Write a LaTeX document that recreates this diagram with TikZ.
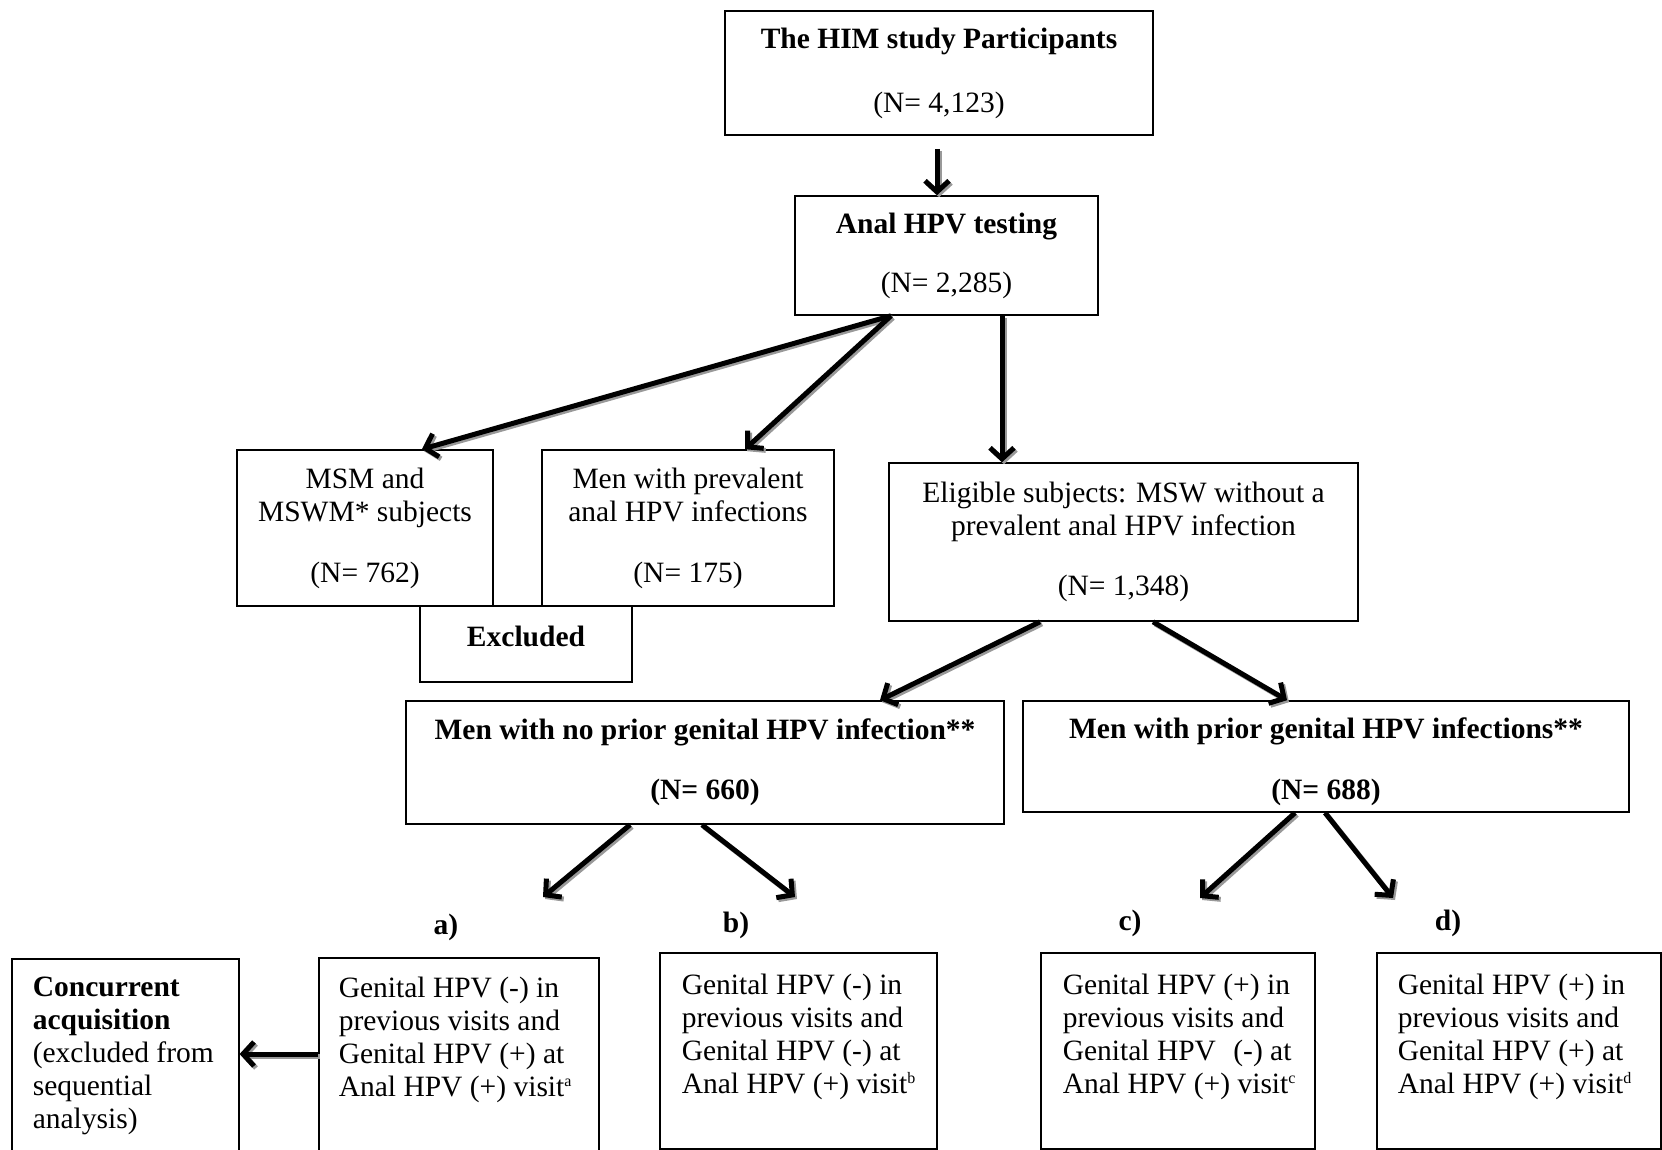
\documentclass[tikz,border=0pt]{standalone}
\usepackage{fontspec}
\setmainfont{Liberation Serif}
\usetikzlibrary{arrows.meta}
\newcommand\myarrow[2]{%
  \draw[connshadow] #1 -- #2;
  \draw[conn] #1 -- #2;}
\newcommand\supnote[1]{\raisebox{10pt}{\fontsize{16}{16}\selectfont #1}}
\begin{document}
\begin{tikzpicture}[x=1pt,y=-1pt,
  txt/.style={font=\fontsize{29.5}{33}\selectfont},
  box/.style={txt, draw, line width=1.6pt, inner sep=0pt, align=center},
  bbox/.style={txt, draw, line width=1.6pt, anchor=north west, inner xsep=21pt},
  conn/.style={line width=5pt, -{Straight Barb[length=11pt,width=24pt]}},
  connshadow/.style={conn, draw=black!40, transform canvas={shift={(2pt,-2pt)}}},
  lab/.style={txt, font=\fontsize{29.5}{33}\selectfont\bfseries}
]
\useasboundingbox (0,0) rectangle (1662,1150);

% main boxes
\node[box, minimum width=428pt, minimum height=124pt] (top) at (939,73)
  {\textbf{The HIM study Participants}\\[31pt](N= 4,123)};
\node[box, minimum width=303pt, minimum height=119pt] (anal) at (946.5,255.5)
  {\textbf{Anal HPV testing}\\[26pt](N= 2,285)};
\node[box, minimum width=256pt, minimum height=156pt] (msm) at (365,528)
  {MSM and\\MSWM* subjects\\[28pt](N= 762)};
\node[box, minimum width=292pt, minimum height=156pt] (prev) at (688,528)
  {Men with prevalent\\anal HPV infections\\[28pt](N= 175)};
\node[box, minimum width=212pt, minimum height=76pt] (excl) at (526,644)
  {\raisebox{-2pt}[0pt][0pt]{\textbf{Excluded}}};
\node[box, minimum width=469pt, minimum height=158pt] (elig) at (1123.5,542)
  {Eligible subjects: MSW without a\\prevalent anal HPV infection\\[27pt](N= 1,348)};
\node[box, minimum width=598pt, minimum height=123pt] (noprior) at (705,762.5)
  {\textbf{Men with no prior genital HPV infection**}\\[27pt]\textbf{(N= 660)}};
\node[box, minimum width=606pt, minimum height=111pt] (prior) at (1326,756.5)
  {\rule{0pt}{30.5pt}\textbf{Men with prior genital HPV infections**}\\[28pt]\textbf{(N= 688)}};

% bottom boxes
\node[bbox, inner ysep=18pt] (conc) at (11,958)
  {\parbox[t][200pt][t]{185pt}{\raggedright\mbox{\textbf{Concurrent}}\\\mbox{\textbf{acquisition}}\\\mbox{(excluded from}\\\mbox{sequential}\\\mbox{analysis)}}};
\node[bbox, inner xsep=20pt, inner ysep=19pt] (abox) at (318,957)
  {\parbox[t][200pt][t]{240pt}{\raggedright\mbox{Genital HPV (-) in}\\\mbox{previous visits and}\\\mbox{Genital HPV (+) at}\\\mbox{Anal HPV (+) visit\supnote{a}}}};
\node[bbox, inner xsep=22pt, inner ysep=21pt] (bbx) at (659,952)
  {\parbox[t][154pt][t]{233pt}{\raggedright\mbox{Genital HPV (-) in}\\\mbox{previous visits and}\\\mbox{Genital HPV (-) at}\\\mbox{Anal HPV (+) visit\supnote{b}}}};
\node[bbox, inner xsep=22pt, inner ysep=21pt] (cbx) at (1040,952)
  {\parbox[t][154pt][t]{230pt}{\raggedright\mbox{Genital HPV (+) in}\\\mbox{previous visits and}\\\mbox{Genital HPV\hspace{10pt} (-) at}\\\mbox{Anal HPV (+) visit\supnote{c}}}};
\node[bbox, inner xsep=21pt, inner ysep=21pt] (dbx) at (1376,952)
  {\parbox[t][154pt][t]{242pt}{\raggedright\mbox{Genital HPV (+) in}\\\mbox{previous visits and}\\\mbox{Genital HPV (+) at}\\\mbox{Anal HPV (+) visit\supnote{d}}}};

% labels
\node[lab] (la) at (446,927) {a)};
\node[lab] (lb) at (736,925) {b)};
\node[lab] (lc) at (1130,923) {c)};
\node[lab] (ld) at (1448,923) {d)};

% free arrow ends
\coordinate (ta) at (543,897);
\coordinate (tb) at (795,897);
\coordinate (tc) at (1200,898);
\coordinate (td) at (1393,898);
\coordinate (ay) at (0,1054);

% connectors
\myarrow{([xshift=-2pt,yshift=-13pt]top.south)}{([xshift=-9.5pt]anal.north)}
\myarrow{([xshift=-55.5pt]anal.south)}{([xshift=57pt]msm.north)}
\myarrow{([xshift=-55.5pt]anal.south)}{([xshift=57pt]prev.north)}
\myarrow{([xshift=55.5pt]anal.south)}{([xshift=-121.5pt]elig.north)}
\myarrow{([xshift=-83.5pt]elig.south)}{([xshift=175pt]noprior.north)}
\myarrow{([xshift=29.5pt]elig.south)}{([xshift=-39pt]prior.north)}
\myarrow{([xshift=-75pt]noprior.south)}{(ta)}
\myarrow{([xshift=-3pt]noprior.south)}{(tb)}
\myarrow{([xshift=-31pt]prior.south)}{(tc)}
\myarrow{([xshift=-1pt]prior.south)}{(td)}
\myarrow{(abox.west |- ay)}{(conc.east |- ay)}
\end{tikzpicture}
\end{document}
